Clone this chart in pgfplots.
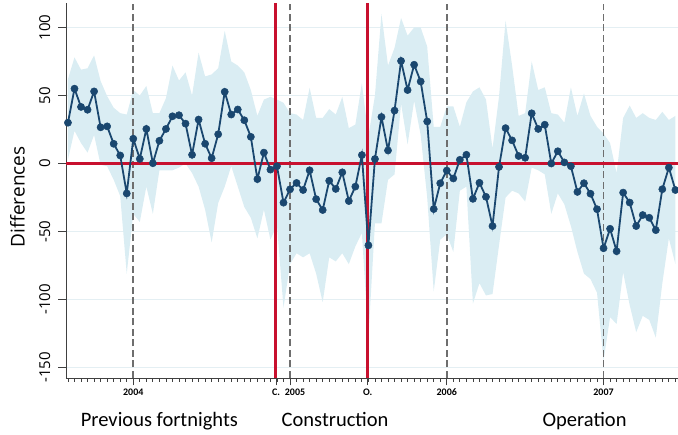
\documentclass[border=0pt]{standalone}
\usepackage{fontspec}
\setmainfont{Carlito}
\newfontfamily\opensans{Open Sans}
\usepackage{pgfplots}
\pgfplotsset{compat=1.18}
\usepgfplotslibrary{fillbetween}
\usepackage{pgfplotstable}

\definecolor{navy}{RGB}{26,71,111}
\definecolor{ciband}{RGB}{218,237,243}
\definecolor{redline}{RGB}{200,16,46}
\definecolor{gridc}{RGB}{228,239,243}
\definecolor{dashc}{RGB}{110,110,110}

% fortnight index (0 = start of 2004), estimate, lower and upper bound
\pgfplotstableread{
t   est    lo    hi
-10 30.0   3    62
-9  55.0   24   78
-8  41.6   15   69
-7  39.5   8    70
-6  53.0   21   79.5
-5  26.6  -1    60.6
-4  27.3  -2    49.5
-3  14.5  -12   41
-2  5.9   -24   37
-1  -22.0 -81   36
0   18.2  -37   54
1   3.4   -43   50
2   25.4  -17   57
3   0.2   -37   37
4   16.7  -5    37
5   25.4  -5    48
6   34.7  -5    72
7   35.5  -3    61
8   29.3  0     67
9   6.4   -7    50
10  32.3  -17   81.5
11  14.5  -34   64
12  3.9   -58   65.5
13  21.5  -29   70
14  52.7  -17   97.5
15  36.0  -2    75
16  39.7  -17   72
17  31.8  -32   67
18  19.6  -40   54
19  -11.5 -55   35
20  8.0   -34   47
21  -4.5  -56   49
22  -2.0  -45   47
23  -28.8 -106  44.6
24  -19.0 -74   37
25  -14.3 -66   36
26  -19.5 -69   32
27  -5.0  -66   55.7
28  -26.2 -81   33.5
29  -34.2 -102  33.5
30  -12.7 -69   40
31  -18.7 -72   36
32  -6.5  -66   49
33  -27.6 -74   26
34  -17.0 -61   28.6
35  6.2   -51   59
36  -60.2 -128  20
37  3.3   -44   50
38  34.2  -44   110
39  9.6   -12   72
40  38.9  -8    85
41  75.4  44    107
42  54.0  14    94
43  72.6  46    100
44  60.3  21    100
45  30.9  -25   86
46  -33.5 -94   27
47  -14.5 -56   27
48  -5.2  -52   42
49  -11.0 -65   42
50  2.7   -20   27
51  6.4   -17   45
52  -26.0 -103  53
53  -14.2 -88   56
54  -24.5 -97   47
55  -46.0 -96   11
56  -2.5  -60   49.5
57  26.0  -25   105
58  17.0  -20   72
59  5.5   -22   35
60  4.2   -28   37
61  36.9  -3    75
62  25.4  -5    54
63  28.5  -8    56
64  0.0   -37   37
65  9.0   -22   36
66  0.8   -30   30
67  -2.0  -46   56
68  -20.9 -65   35
69  -14.5 -81   51.5
70  -22.2 -85   35
71  -33.6 -95   27
72  -62.3 -145  22
73  -48.0 -113  15
74  -64.5 -118  -7
75  -21.4 -80   33.5
76  -28.7 -104  42.6
77  -46.0 -124  33.5
78  -37.9 -112  37
79  -39.9 -115  33.5
80  -49.0 -128  32
81  -18.9 -88   38
82  -3.0  -55   32
83  -19.5 -74   35
}\diffs

\begin{document}
\begin{tikzpicture}
\begin{axis}[
  name=ax,
  at={(0,0)}, anchor=south west,
  scale only axis, width=612pt, height=375pt,
  xmin=-10.3, xmax=83.4, ymin=-157.7, ymax=118,
  axis x line*=bottom, axis y line*=left,
  axis line style={draw=black!75, line width=0.9pt, -},
  clip=false,
  ytick={-150,-100,-50,0,50,100},
  yticklabels={-150,-100,-50,0,50,100},
  ymajorgrids, grid style={gridc, line width=1pt},
  xtick={0,21.85,24,35.9,48,72},
  xticklabels={2004,C.,\hspace*{10pt}2005,O.,2006,2007},
  minor xtick={-10,...,83},
  tick align=outside,
  major tick length=7.5pt, minor tick length=4pt,
  every tick/.style={black!75, line width=0.8pt},
  minor tick style={black!75, line width=0.8pt},
  yticklabel style={rotate=90, anchor=south, inner sep=0pt, yshift=8pt,
    font=\opensans\fontsize{15}{15}\selectfont},
  xticklabel style={anchor=north, inner sep=0pt, yshift=-3pt,
    font=\bfseries\fontsize{10}{10}\selectfont},
  ylabel={Differences},
  ylabel style={at={(axis description cs:-0.067,0.483)}, anchor=south,
    inner sep=0pt, font=\opensans\fontsize{19}{19}\selectfont},
]
% year separators
\addplot[dashc, line width=1.7pt, dash pattern=on 7pt off 3.5pt, forget plot] coordinates {(0,-157.7) (0,117)};
\addplot[dashc, line width=1.7pt, dash pattern=on 7pt off 3.5pt, forget plot] coordinates {(24,-157.7) (24,117)};
\addplot[dashc, line width=1.7pt, dash pattern=on 7pt off 3.5pt, forget plot] coordinates {(48,-157.7) (48,117)};
\addplot[dashc, line width=1.7pt, dash pattern=on 7pt off 3.5pt, forget plot] coordinates {(72,-157.7) (72,117)};
% confidence band
\addplot[name path=hi, draw=none, forget plot] table[x=t, y=hi] {\diffs};
\addplot[name path=lo, draw=none, forget plot] table[x=t, y=lo] {\diffs};
\addplot[ciband, draw=none, forget plot] fill between[of=hi and lo];
% reference lines: zero, construction start, operation start
\addplot[redline, line width=3pt, forget plot] coordinates {(-10.3,0) (83.4,0)};
\addplot[redline, line width=3pt, forget plot] coordinates {(21.85,-157.7) (21.85,118)};
\addplot[redline, line width=3pt, forget plot] coordinates {(35.9,-157.7) (35.9,118)};
% estimates
\addplot[navy, line width=1.8pt, mark=*, mark size=3.6pt,
  mark options={fill=navy, draw=navy, line width=0.5pt}] table[x=t, y=est] {\diffs};
% period names
\node[anchor=base, font=\fontsize{20.5}{20.5}\selectfont, yshift=-49pt] at (axis cs:4,-157.7) {Previous fortnights};
\node[anchor=base, font=\fontsize{20.5}{20.5}\selectfont, yshift=-49pt] at (axis cs:30.9,-157.7) {Construction};
\node[anchor=base, font=\fontsize{20.5}{20.5}\selectfont, yshift=-49pt] at (axis cs:69.1,-157.7) {Operation};
\end{axis}
\pgfresetboundingbox
\path[use as bounding box] ([xshift=-66pt,yshift=-57pt]ax.south west) rectangle ([yshift=3pt]ax.north east);
\end{tikzpicture}
\end{document}
